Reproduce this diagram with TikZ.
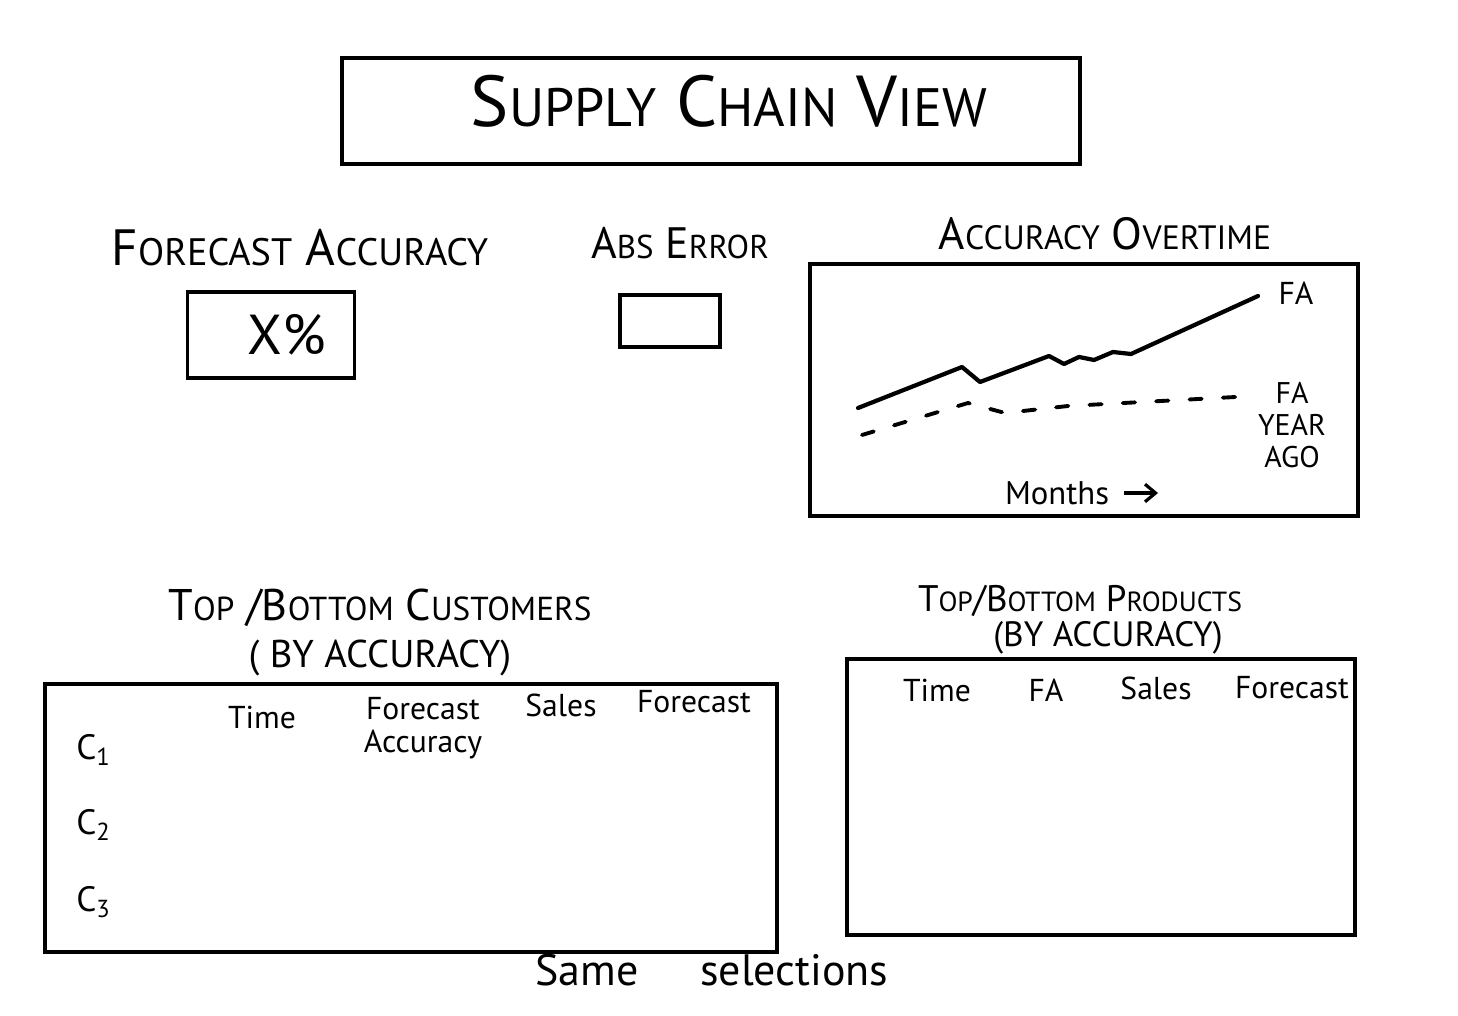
\documentclass[tikz,border=0pt]{standalone}
\usepackage{fontspec}
\setmainfont{PT Sans}
\usepackage{tikz}
\usetikzlibrary{arrows.meta,positioning}
\newcommand{\bigini}[2]{#1\scalebox{0.75}{#2}}
\tikzset{
  sk/box/.style={draw, line width=1.1pt, inner sep=0pt, align=center},
  sk/head/.style={inner sep=1pt, align=center},
  sk/col/.style={font=\fontsize{9}{9.5}\selectfont, inner sep=1pt, align=center},
  sk/fa/.style={line width=1.2pt, line join=round, line cap=round},
  sk/faold/.style={line width=1.1pt, line cap=round, dash pattern=on 3.5pt off 6pt},
  sk/arr/.style={-{Straight Barb[length=3pt,width=5pt]}, line width=0.9pt}
}
\begin{document}
\begin{tikzpicture}[x=0.01cm, y=-0.01cm]
\useasboundingbox (0,0) rectangle (1458,1016);
% title
\node[sk/box, minimum width=7.37cm, minimum height=1.06cm, text depth=6pt, font=\fontsize{20.5}{22}\selectfont] (title) at (711,111) {\hspace{0.5em}\bigini{S}{UPPLY} \bigini{C}{HAIN} \bigini{V}{IEW}};
% kpi cards
\node[sk/head, font=\fontsize{14.5}{16}\selectfont] (fahead) at (300,248) {\bigini{F}{ORECAST} \bigini{A}{CCURACY}};
\node[sk/box, minimum width=1.67cm, minimum height=0.86cm, font=\fontsize{16}{18}\selectfont] (fabox) at (271,335) {\hspace{0.55em}X\%};
\node[sk/head, font=\fontsize{12.5}{14}\selectfont] (aehead) at (680,243) {\bigini{A}{BS} \bigini{E}{RROR}};
\node[sk/box, minimum width=1.0cm, minimum height=0.52cm] (aebox) at (670,321) {};
% accuracy over time
\node[sk/head, font=\fontsize{12.8}{14}\selectfont] (chartHead) at (1105,234) {\bigini{A}{CCURACY} \bigini{O}{VERTIME}};
\node[sk/box, minimum width=5.48cm, minimum height=2.52cm] (chart) at (1084,390) {};
\draw[sk/fa] (858,408) -- (962,367) -- (980,382) -- (1049,356) -- (1064,364) -- (1079,357)
  -- (1094,360) -- (1113,352) -- (1131,354) -- (1258,296);
\draw[sk/faold] (862,435) -- (968,403) -- (1005,413) -- (1068,406) -- (1254,396);
\node[sk/head, font=\fontsize{9}{9.5}\selectfont] (faLabel) at (1296,293) {FA};
\node[sk/head, font=\fontsize{8.5}{9}\selectfont] (agoLabel) at (1292,425) {FA\\YEAR\\AGO};
\node[sk/col, font=\fontsize{9.3}{10}\selectfont] (months) at (1057,493) {Months};
\coordinate (monthsEnd) at (1158,493);
\draw[sk/arr] ([xshift=3pt]months.east) -- (monthsEnd);
% customers table
\node[sk/head, font=\fontsize{12.6}{14}\selectfont] (custHead) at (380,608) {\bigini{T}{OP} /\bigini{B}{OTTOM} \bigini{C}{USTOMERS}};
\node[sk/head, font=\fontsize{11}{12}\selectfont] (custSub) at (380,658) {( BY ACCURACY)};
\node[sk/box, minimum width=7.32cm, minimum height=2.67cm] (custTab) at (411,818) {};
\node[sk/col] (custTime) at (262,717) {Time};
\node[sk/col] (custFa) at (423,728) {Forecast\\Accuracy};
\node[sk/col] (custSales) at (561,705) {Sales};
\node[sk/col] (custFc) at (694,702) {Forecast};
\foreach \i/\y in {1/750,2/825,3/902}
  \node[sk/col, font=\fontsize{10}{11}\selectfont] (cust\i) at (94,\y) {C\textsubscript{\i}};
% products table
\node[sk/head, font=\fontsize{10.5}{12}\selectfont] (prodHead) at (1080,601) {\bigini{T}{OP}/\bigini{B}{OTTOM} \bigini{P}{RODUCTS}};
\node[sk/head, font=\fontsize{10}{11}\selectfont] (prodSub) at (1108,638) {(BY ACCURACY)};
\node[sk/box, minimum width=5.08cm, minimum height=2.75cm] (prodTab) at (1101,797) {};
\node[sk/col] (prodTime) at (937,690) {Time};
\node[sk/col] (prodFa) at (1046,690) {FA};
\node[sk/col] (prodSales) at (1156,688) {Sales};
\node[sk/col] (prodFc) at (1292,688) {Forecast};
% footer
\node[sk/head, font=\fontsize{12.5}{14}\selectfont] (footer) at (712,970) {Same\hspace{1.4em}selections};
\end{tikzpicture}
\end{document}
